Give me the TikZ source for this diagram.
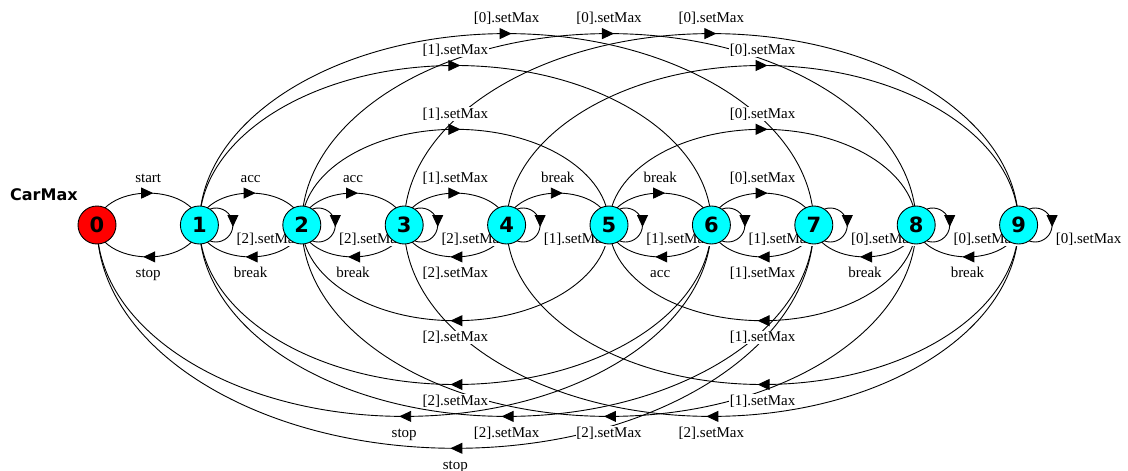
\documentclass[tikz,border=0pt]{standalone}
\usepackage{fontspec}
\setmainfont{Liberation Serif}
\newfontfamily\dvsans{DejaVu Sans}
\usetikzlibrary{decorations.markings,arrows.meta}
\definecolor{stcyan}{RGB}{0,255,255}
\definecolor{stred}{RGB}{255,0,0}
\pgfdeclarelayer{bg}
\pgfdeclarelayer{lbls}
\pgfsetlayers{bg,lbls,main}
\begin{document}
\begin{tikzpicture}[x=1pt,y=1pt,
  state/.style={circle,draw=black,line width=0.9pt,fill=stcyan,minimum size=38pt,inner sep=0pt,
    font=\dvsans\bfseries\fontsize{21}{21}\selectfont},
  lbl/.style={fill=white,inner sep=0.6pt,font=\fontsize{15}{16}\selectfont},
  midarrow/.style={postaction={decorate},decoration={markings,
    mark=at position 0.5 with {\arrow[xshift=#1]{Triangle[length=12pt,width=11pt]}}}},
  arcline/.style={line width=0.9pt,midarrow=5pt},
  loopline/.style={line width=0.9pt,midarrow=2pt}]
\useasboundingbox (0,0) rectangle (1128,-471);

% states
\node[state,fill=stred] (s0) at (97,-225) {0};
\foreach \i in {1,...,9} {
  \node[state] (s\i) at ({97+102.4*\i},-225) {\i};
}

\node[anchor=base west,inner sep=0pt,font=\dvsans\bfseries\fontsize{16}{16}\selectfont] (title) at (10,-200.5) {CarMax};

% forward transitions (above)
\begin{pgfonlayer}{bg}
\foreach \i/\j in {0/1,1/2,2/3,3/4,4/5,5/6,6/7,2/5,5/8,1/6,4/9,1/7,2/8,3/9} {
  \draw[arcline] (s\i.center) arc[start angle=180,end angle=0,
     x radius={(\j-\i)*51.2pt},y radius={(\j-\i)*31.9pt}];
}
% backward transitions (below)
\foreach \j/\i in {1/0,2/1,3/2,4/3,6/5,7/6,8/7,9/8,5/2,8/5,6/1,9/4,6/0,7/1,8/2,9/3,7/0} {
  \draw[arcline] (s\j.center) arc[start angle=0,end angle=-180,
     x radius={(\j-\i)*51.2pt},y radius={(\j-\i)*31.9pt}];
}
% self loops
\foreach \i in {1,...,9} {
  \draw[loopline] ([xshift=16.5pt]s\i.center) ++(110:17pt) arc[start angle=110,end angle=-110,radius=17pt];
}
\end{pgfonlayer}

\begin{pgfonlayer}{lbls}
\foreach \i/\j/\t in {0/1/start,1/2/acc,2/3/acc,3/4/{[1].setMax},4/5/break,5/6/break,6/7/{[0].setMax},
   2/5/{[1].setMax},5/8/{[0].setMax},1/6/{[1].setMax},4/9/{[0].setMax},
   1/7/{[0].setMax},2/8/{[0].setMax},3/9/{[0].setMax}} {
  \node[lbl,anchor=base] (f\i\j) at ({97+51.2*(\i+\j)},{-225+31.9*(\j-\i)+11}) {\t};
}
\foreach \j/\i/\t in {1/0/stop,2/1/break,3/2/break,4/3/{[2].setMax},6/5/acc,7/6/{[1].setMax},8/7/break,9/8/break,
   5/2/{[2].setMax},8/5/{[1].setMax},6/1/{[2].setMax},9/4/{[1].setMax},
   6/0/stop,7/1/{[2].setMax},8/2/{[2].setMax},9/3/{[2].setMax},7/0/stop} {
  \node[lbl,anchor=base] (b\j\i) at ({97+51.2*(\i+\j)},{-225-31.9*(\j-\i)-21}) {\t};
}
\foreach \i/\t in {1/{[2].setMax},2/{[2].setMax},3/{[2].setMax},4/{[1].setMax},5/{[1].setMax},
   6/{[1].setMax},7/{[0].setMax},8/{[0].setMax},9/{[0].setMax}} {
  \node[lbl,anchor=base west] (l\i) at ([xshift=36.5pt,yshift=-18pt]s\i.center) {\t};
}
\end{pgfonlayer}
\end{tikzpicture}
\end{document}
